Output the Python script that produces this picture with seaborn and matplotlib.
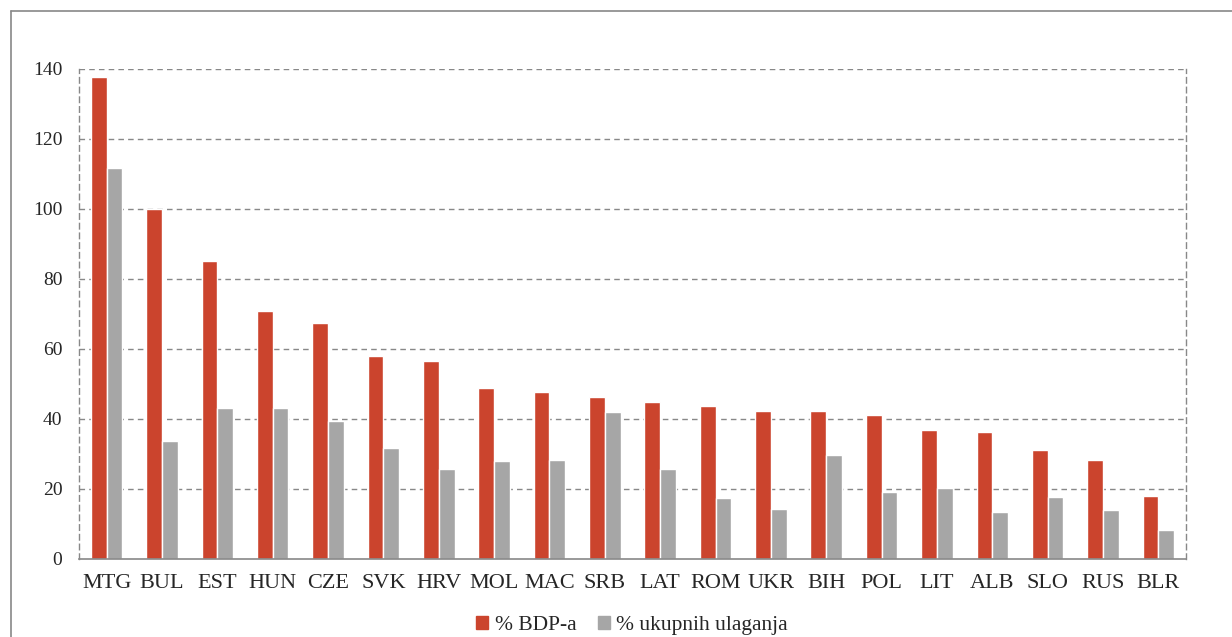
import pandas as pd
import numpy as np
import matplotlib
matplotlib.use("Agg")
import matplotlib.pyplot as plt
import seaborn as sns
from matplotlib.lines import Line2D

countries = ['MTG', 'BUL', 'EST', 'HUN', 'CZE', 'SVK', 'HRV', 'MOL', 'MAC', 'SRB',
             'LAT', 'ROM', 'UKR', 'BIH', 'POL', 'LIT', 'ALB', 'SLO', 'RUS', 'BLR']
bdp = [137.8, 100.0, 85.0, 70.8, 67.5, 57.9, 56.5, 48.8, 47.8, 46.3,
       44.8, 43.7, 42.2, 42.2, 41.1, 36.7, 36.3, 31.1, 28.2, 18.0]
ulaganja = [111.8, 33.7, 43.0, 43.0, 39.3, 31.6, 25.7, 27.9, 28.3, 41.8,
            25.7, 17.3, 14.1, 29.7, 19.1, 20.1, 13.3, 17.6, 14.0, 8.1]
series = ['% BDP-a', '% ukupnih ulaganja']
yticks = [0, 20, 40, 60, 80, 100, 120, 140]

df = pd.DataFrame({'zemlja': countries * 2,
                   'vrijednost': bdp + ulaganja,
                   'serija': [series[0]] * len(countries) + [series[1]] * len(countries)})

sns.set_style("white")
plt.rcParams['font.family'] = ['Liberation Serif', 'DejaVu Serif']

fig = plt.figure(figsize=(12.32, 6.37), dpi=100)
ax = fig.add_axes([0.0641, 0.1229, 0.8986, 0.7688])

sns.barplot(data=df, x='zemlja', y='vrijednost', hue='serija', order=countries,
            hue_order=series, palette=['#CB442D', '#A6A6A6'], width=0.57,
            saturation=1, ax=ax, legend=False)

ax.set_ylim(0, 140)
ax.set_xlim(-0.5, len(countries) - 0.5)
ax.set_yticks(yticks)
ax.set_yticklabels([str(v) for v in yticks], fontsize=14)
ax.set_xlabel('')
ax.set_ylabel('')
ax.tick_params(axis='x', length=0, labelsize=16, pad=11)
ax.tick_params(axis='y', length=6, color='#888888', direction='out', pad=6)
ax.set_xticks(np.arange(-0.5, len(countries), 1), minor=True)
ax.tick_params(axis='x', which='minor', length=6, color='#888888', direction='out')

for y in yticks[1:]:
    ax.axhline(y, color='#888888', lw=1, ls=(0, (4, 3)), zorder=0)
for side in ['left', 'right']:
    ax.spines[side].set_linestyle((0, (4, 3)))
    ax.spines[side].set_color('#888888')
    ax.spines[side].set_linewidth(1)
ax.spines['top'].set_visible(False)
ax.spines['bottom'].set_color('#888888')
ax.spines['bottom'].set_linewidth(1.2)

# outer chart border
fig.add_artist(Line2D([11 / 1232, 11 / 1232], [0, 1 - 11 / 637], transform=fig.transFigure,
                      color='#888888', lw=1.2))
fig.add_artist(Line2D([11 / 1232, 1], [1 - 11 / 637, 1 - 11 / 637], transform=fig.transFigure,
                      color='#888888', lw=1.2))

handles = [plt.Rectangle((0, 0), 1, 1, color=c) for c in ['#CB442D', '#A6A6A6']]
fig.legend(handles, series, loc='center', bbox_to_anchor=(0.513, 0.018), ncol=2,
           frameon=False, fontsize=15.5, handlelength=0.55, handleheight=0.55,
           handletextpad=0.3, columnspacing=1.0)

fig.savefig('out.png', dpi=100)
